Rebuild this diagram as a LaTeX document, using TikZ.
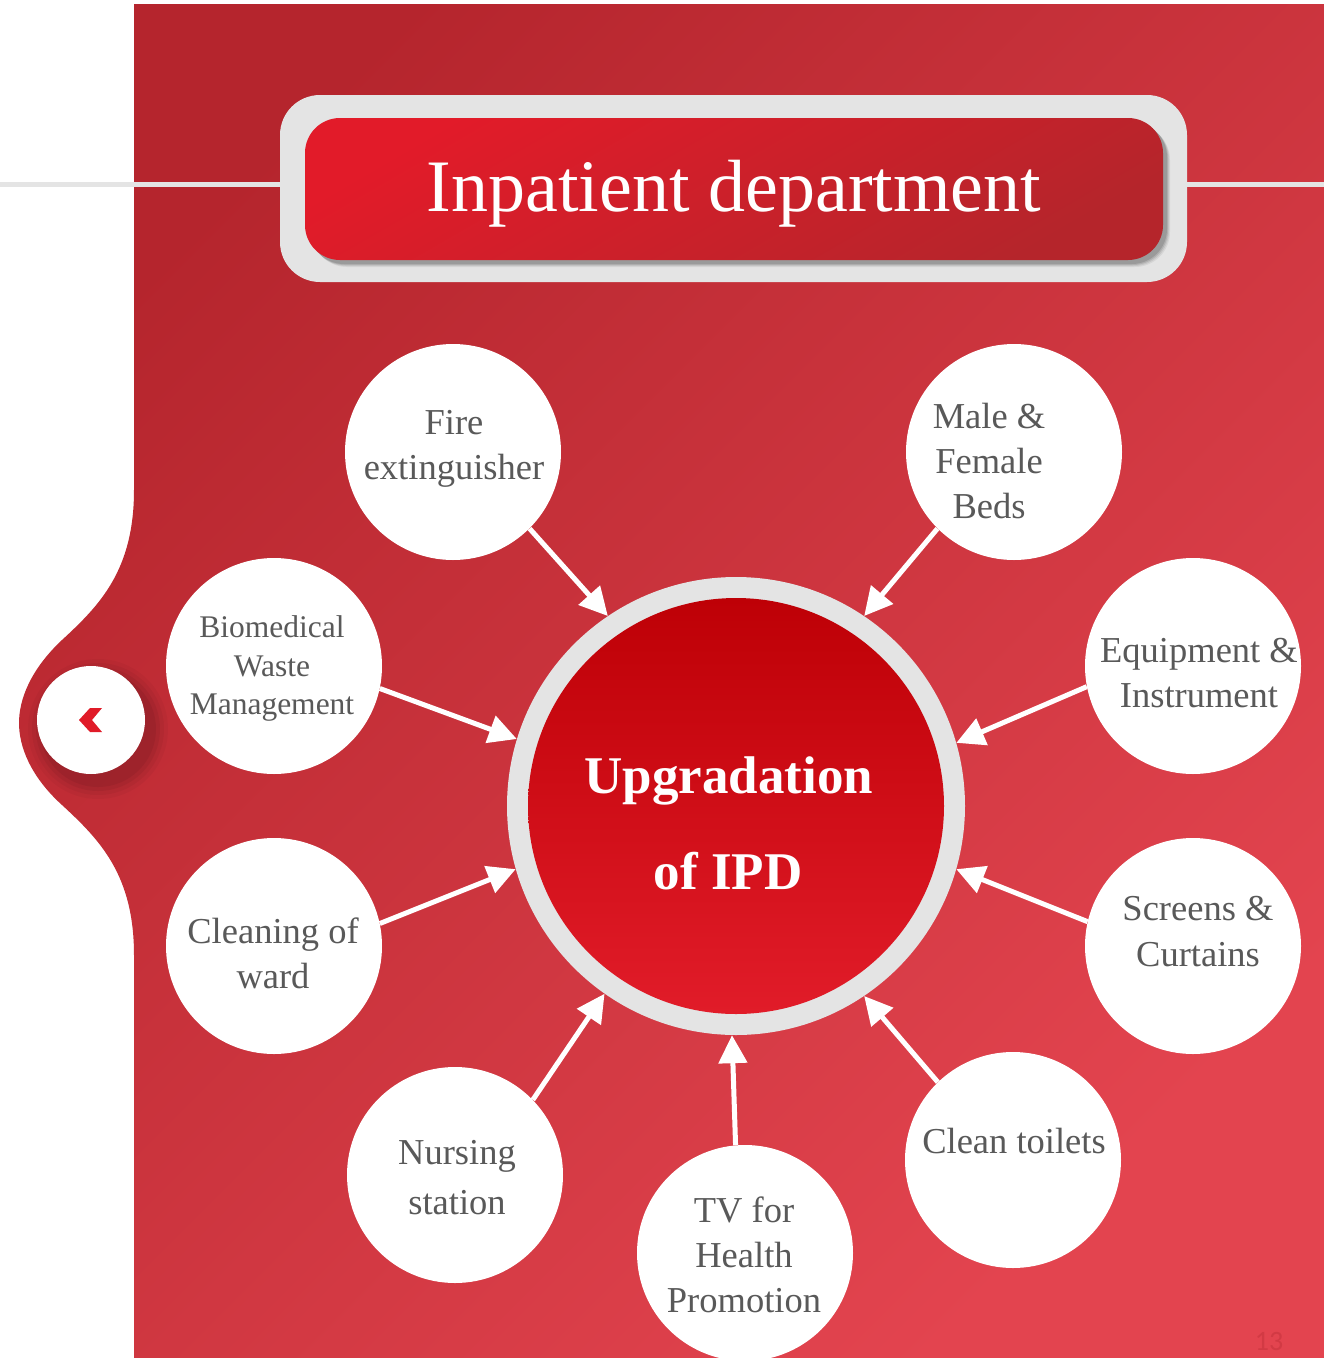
\documentclass[tikz,border=0pt]{standalone}
\usepackage{fontspec}
\setmainfont{Liberation Serif}
\newfontfamily\pagefont{Carlito}
\usetikzlibrary{arrows.meta}
\definecolor{bgA}{HTML}{B5252D}
\definecolor{bgB}{HTML}{E3444F}
\definecolor{lineg}{HTML}{E4E4E4}
\definecolor{titA}{HTML}{E21B29}
\definecolor{titB}{HTML}{B5252B}
\definecolor{hubA}{HTML}{BE0006}
\definecolor{hubB}{HTML}{E11C29}
\definecolor{txtg}{HTML}{595959}
\definecolor{chev}{HTML}{E01B28}
\definecolor{numc}{HTML}{D23A44}
\begin{document}
\begin{tikzpicture}[x=1pt,y=-1pt,
  bubble/.style={circle, fill=white, minimum size=216pt, inner sep=0pt},
  btext/.style={font=\fontsize{36.5}{45}\selectfont, text=txtg, anchor=base, inner sep=0pt},
  bsmall/.style={font=\fontsize{31.5}{39}\selectfont, text=txtg, anchor=base, inner sep=0pt},
  htext/.style={font=\fontsize{53}{60}\selectfont\bfseries, text=white, anchor=base, inner sep=0pt},
  arr/.style={draw=white, line width=5pt, -{Triangle[length=28pt,width=28pt]}},
  rule/.style={draw=lineg, line width=5pt}
]
\useasboundingbox (0,0) rectangle (1324,1358);
\fill[white] (0,0) rectangle (1324,1358);
% red panel with left lobe
\shade[top color=bgA, bottom color=bgB, shading angle=45]
  (134,4) -- (1324,4) -- (1324,1358) -- (134,1358) -- (134,955)
  .. controls (134,875) and (100,840) .. (62,805)
  .. controls (30,776) and (19,746) .. (19,723)
  .. controls (19,700) and (30,670) .. (62,640)
  .. controls (100,605) and (134,570) .. (134,490) -- cycle;

% title
\coordinate (lL) at (0,184);
\coordinate (lR) at (1324,184);
\node[rectangle, rounded corners=40pt, fill=lineg, minimum width=907pt, minimum height=187pt, inner sep=0pt] (tout) at (733.5,188.5) {};
\draw[rule] (lL) -- (lL -| tout.west);
\draw[rule] (lR -| tout.east) -- (lR);
\foreach \o/\a in {7/0.06,6/0.08,5/0.10,4/0.12} {
  \fill[black, opacity=\a, rounded corners=35pt] (305+\o,118+\o) rectangle (1163+\o,260+\o);
}
\node[rectangle, rounded corners=35pt, minimum width=858pt, minimum height=142pt, inner sep=0pt,
  top color=titA, bottom color=titB, shading angle=30] (tin) at (734,189) {};
\node[font=\fontsize{74}{80}\selectfont, text=white, anchor=base, inner sep=0pt] (ttext) at (734,211) {Inpatient department};

% hub
\node[circle, fill=lineg, minimum size=458pt, inner sep=0pt] (hub) at (736,806) {};
\node[circle, minimum size=416pt, inner sep=0pt, top color=hubA, bottom color=hubB] (hubin) at (736,806) {};
\node[htext] (h1) at (729,793) {Upgradation};
\node[htext] (h2) at (728,889) {of IPD};

% back button
\foreach \r/\a in {70/0.03,66/0.04,62/0.05,58/0.06} {
  \fill[black, opacity=\a] (98,729) circle (\r pt);
}
\node[circle, fill=white, minimum size=108pt, inner sep=0pt] (back) at (91,720) {};
\fill[chev] (102,708) -- (90,708) -- (79,720) -- (90,732) -- (102,732) -- (92,720) -- cycle;

% bubbles
\node[bubble] (fire) at (453,452) {};
\node[bubble] (beds) at (1014,452) {};
\node[bubble] (bio) at (274,666) {};
\node[bubble] (equip) at (1193,666) {};
\node[bubble] (clean) at (274,946) {};
\node[bubble] (screen) at (1193,946) {};
\node[bubble] (nurse) at (455,1175) {};
\node[bubble] (tv) at (745,1253) {};
\node[bubble] (toil) at (1013,1160) {};

% texts
\node[btext] (fire1) at (454,434) {Fire};
\node[btext] (fire2) at (454,479) {extinguisher};
\node[btext] (beds1) at (989,428) {Male \&};
\node[btext] (beds2) at (989,473) {Female};
\node[btext] (beds3) at (989,518) {Beds};
\node[bsmall] (bio1) at (272,637) {Biomedical};
\node[bsmall] (bio2) at (272,676) {Waste};
\node[bsmall] (bio3) at (272,714) {Management};
\node[btext] (eq1) at (1199,662) {Equipment \&};
\node[btext] (eq2) at (1199,707) {Instrument};
\node[btext] (cl1) at (273,943) {Cleaning of};
\node[btext] (cl2) at (273,988) {ward};
\node[btext] (sc1) at (1198,920) {Screens \&};
\node[btext] (sc2) at (1198,966) {Curtains};
\node[btext] (nu1) at (457,1164) {Nursing};
\node[btext] (nu2) at (457,1214) {station};
\node[btext] (tv1) at (744,1222) {TV for};
\node[btext] (tv2) at (744,1267) {Health};
\node[btext] (tv3) at (744,1312) {Promotion};
\node[btext] (to1) at (1014,1153) {Clean toilets};

% arrows
\foreach \n/\s/\e in {fire/-45/124, beds/225/56, bio/-12/163.4, equip/191.7/16.6,
                      clean/12.2/196.9, screen/167.8/-16.9, nurse/44.6/235.9,
                      tv/95.3/269.2, toil/134.3/-56} {
  \draw[arr] (\n.\s) -- (hub.\e);
}

\node[text=numc, font=\pagefont\fontsize{28}{30}\selectfont, anchor=base, inner sep=0pt] (pg) at (1269,1350) {13};
\end{tikzpicture}
\end{document}
